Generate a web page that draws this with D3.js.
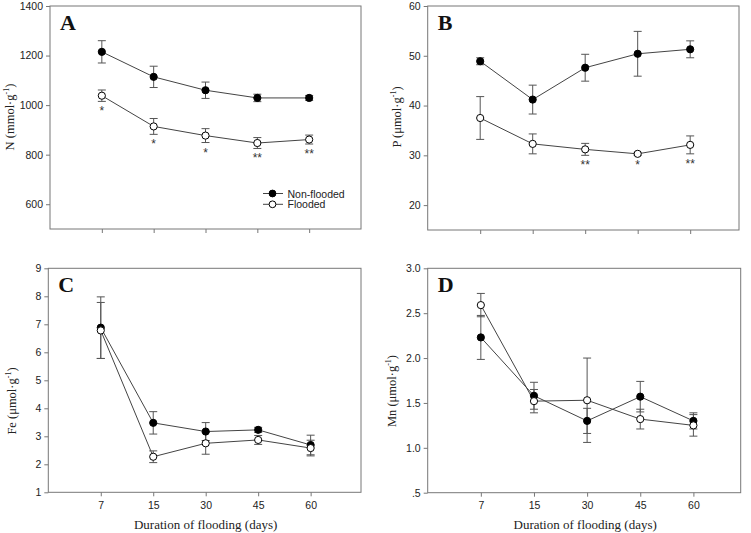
<!DOCTYPE html>
<html><head><meta charset="utf-8">
<script src="https://cdn.jsdelivr.net/npm/d3@7"></script>
<style>body{margin:0;background:#fff}svg{display:block}</style>
</head><body>
<svg id="c" width="751" height="533"></svg>
<script>
// ---- data ----
const days = ["7","15","30","45","60"];
const seriesNames = ["Non-flooded","Flooded"];

const nNon = [1215,1114,1060,1029,1029];
const nNonErr = [45,43,33,15,10];
const nFlood = [1038,914,877,847,861];
const nFloodErr = [23,32,28,22,18];
const nStars = ["*","*","*","**","**"];
const nTicks = [600,800,1000,1200,1400];

const pNon = [48.9,41.2,47.6,50.4,51.3];
const pNonErr = [0.7,2.9,2.7,4.5,1.7];
const pFlood = [37.5,32.3,31.2,30.3,32.1];
const pFloodErr = [4.3,2.0,1.2,0.3,1.8];
const pStars = ["","","**","*","**"];
const pTicks = [20,30,40,50,60];

const feNon = [6.88,3.48,3.17,3.23,2.69];
const feNonErr = [1.1,0.4,0.32,0.09,0.35];
const feFlood = [6.78,2.27,2.75,2.87,2.58];
const feFloodErr = [1.0,0.21,0.39,0.16,0.28];
const feStars = ["","","","",""];
const feTicks = [1,2,3,4,5,6,7,8,9];

const mnNon = [2.23,1.58,1.30,1.57,1.30];
const mnNonErr = [0.245,0.15,0.14,0.17,0.09];
const mnFlood = [2.59,1.52,1.53,1.32,1.25];
const mnFloodErr = [0.13,0.13,0.47,0.11,0.12];
const mnStars = ["","","","",""];
const mnTicks = [0.5,1.0,1.5,2.0,2.5,3.0];
const mnTickLabels = [".5","1.0","1.5","2.0","2.5","3.0"];

const SANS = "'Liberation Sans', Arial, sans-serif";
const SERIF = "'Liberation Serif', 'Times New Roman', serif";

const svg = d3.select("#c");

function panel(o){
  const g = svg.append("g");
  const x = d3.scaleLinear().domain([0,o.xmax]).range([o.l,o.r]);
  const y = d3.scaleLinear().domain(o.ydom).range([o.b,o.t]);
  const xi = i => x(i+1);

  // frame
  g.append("rect").attr("x",o.l).attr("y",o.t).attr("width",o.r-o.l).attr("height",o.b-o.t)
    .attr("fill","none").attr("stroke","#777").attr("stroke-width",1);

  // y axis
  const ya = g.append("g").attr("transform",`translate(${o.l},0)`)
    .call(d3.axisLeft(y).tickValues(o.yticks).tickSize(4).tickPadding(3)
      .tickFormat((d,i)=> o.ylabels ? o.ylabels[i] : d3.format("d")(d)));
  ya.select(".domain").remove();
  ya.selectAll("line").attr("stroke","#777");
  ya.selectAll("text").attr("font-family",SANS).attr("font-size",10.5).attr("fill","#222");

  // x axis
  const xa = g.append("g").attr("transform",`translate(0,${o.b})`)
    .call(d3.axisBottom(x).tickValues([1,2,3,4,5]).tickSize(4).tickPadding(5)
      .tickFormat((d)=> o.xlabels ? days[d-1] : ""));
  xa.select(".domain").remove();
  xa.selectAll("line").attr("stroke","#777");
  xa.selectAll("text").attr("font-family",SANS).attr("font-size",10.5).attr("fill","#222");

  // y title
  const yt = g.append("text")
    .attr("transform",`translate(${o.ytx},${o.yty}) rotate(-90)`)
    .attr("text-anchor","middle").attr("font-family",SERIF).attr("font-size",12.5).attr("fill","#222");
  yt.append("tspan").text(o.ytitle);
  yt.append("tspan").attr("font-size",8).attr("dy",-5).text("-1");
  yt.append("tspan").attr("dy",5).text(")");

  // x title
  if (o.xlabels){
    g.append("text").attr("x",(o.l+o.r)/2 + 1).attr("y",529)
      .attr("text-anchor","middle").attr("font-family",SERIF).attr("font-size",13).attr("fill","#222")
      .text("Duration of flooding (days)");
  }

  // panel letter
  g.append("text").attr("x",o.l+10).attr("y",o.t+24)
    .attr("font-family",SERIF).attr("font-weight","bold").attr("font-size",22).attr("fill","#111")
    .text(o.letter);

  const series = [
    {v:o.non, e:o.nonErr, fill:"#000"},
    {v:o.fl, e:o.flErr, fill:"#fff"}
  ];
  const line = d3.line().x((d,i)=>xi(i)).y(d=>y(d));
  series.forEach(s=>{
    g.append("path").attr("d",line(s.v)).attr("fill","none").attr("stroke","#444").attr("stroke-width",1);
  });
  series.forEach(s=>{
    s.v.forEach((v,i)=>{
      const cx = xi(i), y1 = y(v+s.e[i]), y2 = y(v-s.e[i]);
      g.append("line").attr("x1",cx).attr("x2",cx).attr("y1",y1).attr("y2",y2).attr("stroke","#555").attr("stroke-width",1);
      [y1,y2].forEach(yy=>g.append("line").attr("x1",cx-4).attr("x2",cx+4).attr("y1",yy).attr("y2",yy)
        .attr("stroke","#555").attr("stroke-width",1));
    });
  });
  series.forEach(s=>{
    s.v.forEach((v,i)=>{
      g.append("circle").attr("cx",xi(i)).attr("cy",y(v)).attr("r",3.6)
        .attr("fill",s.fill).attr("stroke","#000").attr("stroke-width",1);
    });
  });
  // significance
  o.stars.forEach((st,i)=>{
    if(!st) return;
    g.append("text").attr("x",xi(i)).attr("y",y(o.fl[i]-o.flErr[i])+14)
      .attr("text-anchor","middle").attr("font-family",SANS).attr("font-size",12).attr("fill","#333").text(st);
  });

  if (o.legend){
    seriesNames.forEach((nm,k)=>{
      const ly = 193.5 + k*10.8;
      g.append("line").attr("x1",263).attr("x2",283).attr("y1",ly).attr("y2",ly).attr("stroke","#444");
      g.append("circle").attr("cx",272.5).attr("cy",ly).attr("r",3.4)
        .attr("fill",k===0?"#000":"#fff").attr("stroke","#000");
      g.append("text").attr("x",287.5).attr("y",ly+4).attr("font-family",SANS).attr("font-size",10.5)
        .attr("fill","#222").text(nm);
    });
  }
}

panel({l:50,r:361,t:6,b:229,xmax:6,ydom:[500,1400],yticks:nTicks,
  non:nNon,nonErr:nNonErr,fl:nFlood,flErr:nFloodErr,stars:nStars,
  ytitle:"N (mmol·g",ytx:14,yty:117,letter:"A",legend:true,xlabels:false});
panel({l:427.7,r:739,t:6,b:230,xmax:5.93,ydom:[15,60],yticks:pTicks,
  non:pNon,nonErr:pNonErr,fl:pFlood,flErr:pFloodErr,stars:pStars,
  ytitle:"P (μmol·g",ytx:401,yty:117,letter:"B",legend:false,xlabels:false});
panel({l:48.3,r:361,t:268.3,b:492.3,xmax:5.96,ydom:[1,9],yticks:feTicks,
  non:feNon,nonErr:feNonErr,fl:feFlood,flErr:feFloodErr,stars:feStars,
  ytitle:"Fe (μmol·g",ytx:16,yty:401,letter:"C",legend:false,xlabels:true});
panel({l:427.7,r:740.7,t:268.3,b:492.7,xmax:5.89,ydom:[0.5,3.0],yticks:mnTicks,ylabels:mnTickLabels,
  non:mnNon,nonErr:mnNonErr,fl:mnFlood,flErr:mnFloodErr,stars:mnStars,
  ytitle:"Mn (μmol·g",ytx:396,yty:391,letter:"D",legend:false,xlabels:true});
</script>
</body></html>
